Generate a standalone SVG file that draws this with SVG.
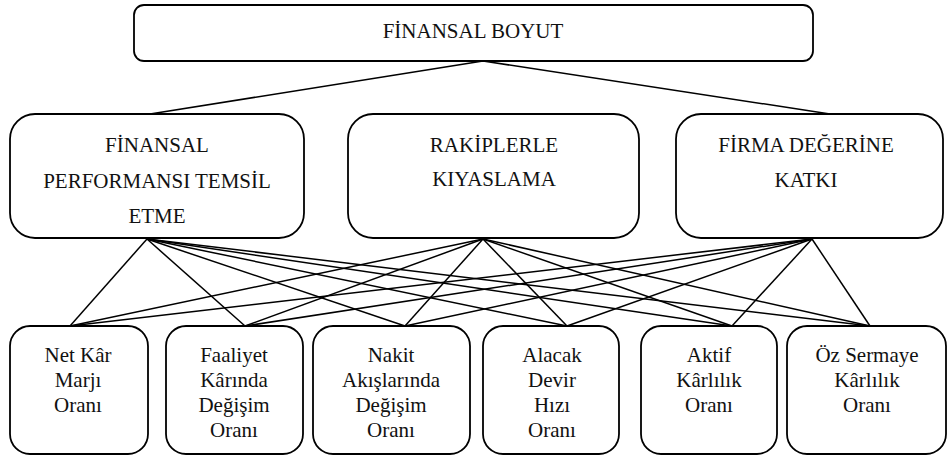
<svg xmlns="http://www.w3.org/2000/svg" width="948" height="456" viewBox="0 0 948 456" font-family="Times New Roman">
<rect width="948" height="456" fill="#fff"/>
<g id="connectors" stroke="#000" stroke-width="1.5">
<line x1="483" y1="61" x2="150" y2="114"/>
<line x1="483" y1="61" x2="830" y2="114"/>
<line x1="147" y1="239" x2="70" y2="326"/>
<line x1="147" y1="239" x2="245" y2="326"/>
<line x1="147" y1="239" x2="405" y2="326"/>
<line x1="147" y1="239" x2="567" y2="326"/>
<line x1="147" y1="239" x2="732" y2="326"/>
<line x1="147" y1="239" x2="870" y2="326"/>
<line x1="483" y1="239" x2="70" y2="326"/>
<line x1="483" y1="239" x2="245" y2="326"/>
<line x1="483" y1="239" x2="405" y2="326"/>
<line x1="483" y1="239" x2="567" y2="326"/>
<line x1="483" y1="239" x2="732" y2="326"/>
<line x1="483" y1="239" x2="870" y2="326"/>
<line x1="812" y1="239" x2="70" y2="326"/>
<line x1="812" y1="239" x2="245" y2="326"/>
<line x1="812" y1="239" x2="405" y2="326"/>
<line x1="812" y1="239" x2="567" y2="326"/>
<line x1="812" y1="239" x2="732" y2="326"/>
<line x1="812" y1="239" x2="870" y2="326"/>
</g>
<g fill="#fff" stroke="#000" stroke-width="1.8">
<rect id="top-box" x="134" y="5" width="679" height="56" rx="10"/>
<rect x="10" y="114" width="294" height="124" rx="25"/>
<rect x="348" y="114" width="291" height="124" rx="25"/>
<rect x="676" y="114" width="267" height="124" rx="25"/>
<rect x="10" y="326" width="138" height="128" rx="20"/>
<rect x="166" y="326" width="137" height="128" rx="20"/>
<rect x="313" y="326" width="157" height="128" rx="20"/>
<rect x="483" y="326" width="136" height="128" rx="20"/>
<rect x="641" y="326" width="136" height="128" rx="20"/>
<rect x="787" y="326" width="159" height="128" rx="20"/>
</g>
<g id="top"><text x="473" y="38" font-family="Times New Roman" font-size="21" fill="#111" text-anchor="middle">FİNANSAL BOYUT</text></g>
<g id="m1">
<text x="157" y="152" font-family="Times New Roman" font-size="21" fill="#111" text-anchor="middle">FİNANSAL</text>
<text x="157" y="188" font-family="Times New Roman" font-size="21" fill="#111" text-anchor="middle">PERFORMANSI TEMSİL</text>
<text x="157" y="223" font-family="Times New Roman" font-size="21" fill="#111" text-anchor="middle">ETME</text>
</g>
<g id="m2">
<text x="494" y="152" font-family="Times New Roman" font-size="21" fill="#111" text-anchor="middle">RAKİPLERLE</text>
<text x="494" y="186" font-family="Times New Roman" font-size="21" fill="#111" text-anchor="middle">KIYASLAMA</text>
</g>
<g id="m3">
<text x="806" y="152" font-family="Times New Roman" font-size="21" fill="#111" text-anchor="middle">FİRMA DEĞERİNE</text>
<text x="806" y="187" font-family="Times New Roman" font-size="21" fill="#111" text-anchor="middle">KATKI</text>
</g>
<g id="b1">
<text x="78" y="362" font-family="Times New Roman" font-size="21" fill="#111" text-anchor="middle">Net Kâr</text>
<text x="78" y="387" font-family="Times New Roman" font-size="21" fill="#111" text-anchor="middle">Marjı</text>
<text x="78" y="412" font-family="Times New Roman" font-size="21" fill="#111" text-anchor="middle">Oranı</text>
</g>
<g id="b2">
<text x="234" y="362" font-family="Times New Roman" font-size="21" fill="#111" text-anchor="middle">Faaliyet</text>
<text x="234" y="387" font-family="Times New Roman" font-size="21" fill="#111" text-anchor="middle">Kârında</text>
<text x="234" y="412" font-family="Times New Roman" font-size="21" fill="#111" text-anchor="middle">Değişim</text>
<text x="234" y="437" font-family="Times New Roman" font-size="21" fill="#111" text-anchor="middle">Oranı</text>
</g>
<g id="b3">
<text x="391" y="362" font-family="Times New Roman" font-size="21" fill="#111" text-anchor="middle">Nakit</text>
<text x="391" y="387" font-family="Times New Roman" font-size="21" fill="#111" text-anchor="middle">Akışlarında</text>
<text x="391" y="412" font-family="Times New Roman" font-size="21" fill="#111" text-anchor="middle">Değişim</text>
<text x="391" y="437" font-family="Times New Roman" font-size="21" fill="#111" text-anchor="middle">Oranı</text>
</g>
<g id="b4">
<text x="552" y="362" font-family="Times New Roman" font-size="21" fill="#111" text-anchor="middle">Alacak</text>
<text x="552" y="387" font-family="Times New Roman" font-size="21" fill="#111" text-anchor="middle">Devir</text>
<text x="552" y="412" font-family="Times New Roman" font-size="21" fill="#111" text-anchor="middle">Hızı</text>
<text x="552" y="437" font-family="Times New Roman" font-size="21" fill="#111" text-anchor="middle">Oranı</text>
</g>
<g id="b5">
<text x="709" y="362" font-family="Times New Roman" font-size="21" fill="#111" text-anchor="middle">Aktif</text>
<text x="709" y="387" font-family="Times New Roman" font-size="21" fill="#111" text-anchor="middle">Kârlılık</text>
<text x="709" y="412" font-family="Times New Roman" font-size="21" fill="#111" text-anchor="middle">Oranı</text>
</g>
<g id="b6">
<text x="867" y="362" font-family="Times New Roman" font-size="21" fill="#111" text-anchor="middle">Öz Sermaye</text>
<text x="867" y="387" font-family="Times New Roman" font-size="21" fill="#111" text-anchor="middle">Kârlılık</text>
<text x="867" y="412" font-family="Times New Roman" font-size="21" fill="#111" text-anchor="middle">Oranı</text>
</g>
</svg>
